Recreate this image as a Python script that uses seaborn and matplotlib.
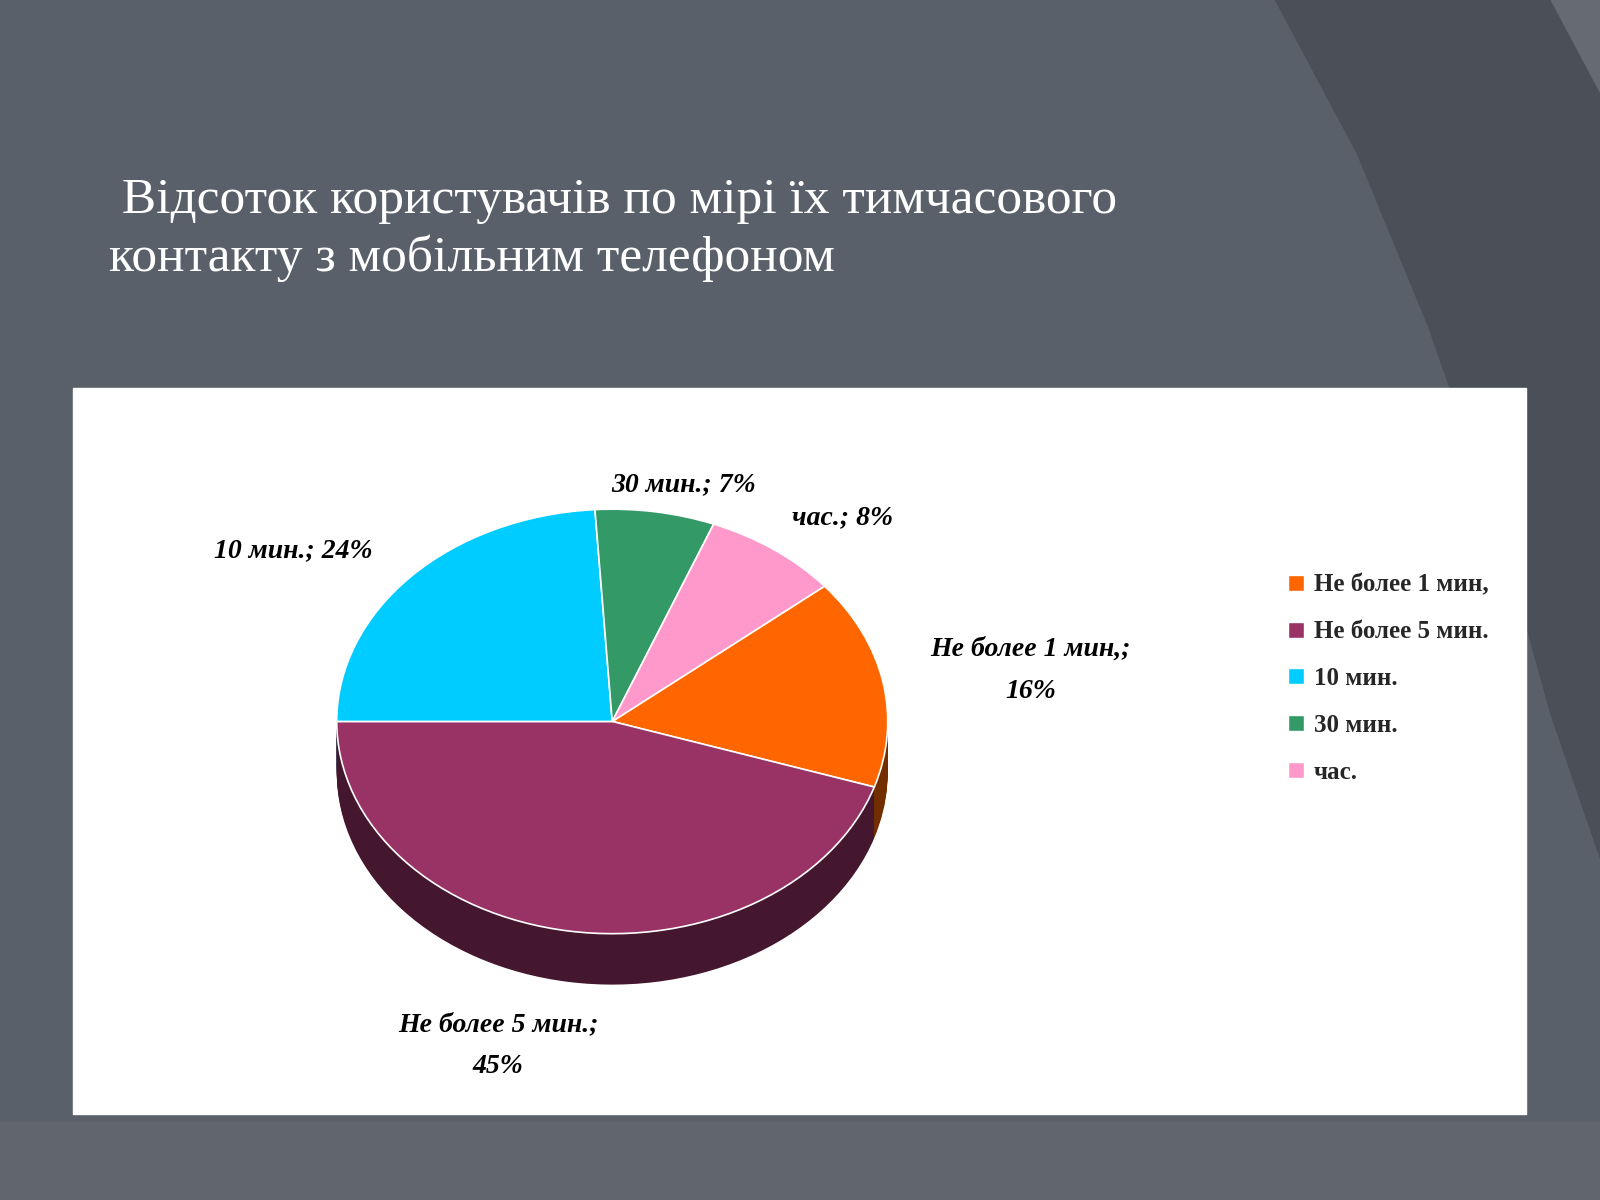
import matplotlib
matplotlib.use("Agg")
import matplotlib.pyplot as plt
import seaborn as sns
from matplotlib.patches import Rectangle, Polygon
from matplotlib.lines import Line2D
import colorsys

sns.set_theme(style="white")
plt.rcParams['font.family'] = ['Liberation Serif', 'DejaVu Serif']

categories = ["Не более 1 мин,", "Не более 5 мин.", "10 мин.", "30 мин.", "час."]
values = [16, 45, 24, 7, 8]
colors = ["#FF6600", "#993366", "#00CCFF", "#339966", "#FF99CC"]
label_texts = ["Не более 1 мин,;\n16%", "Не более 5 мин.;\n45%", "10 мин.; 24%", "30 мин.; 7%", "час.; 8%"]

fig = plt.figure(figsize=(16, 12), dpi=100)
fig.patch.set_facecolor("#596069")

# decorative background
bg = fig.add_axes([0, 0, 1, 1]); bg.set_xlim(0, 1568); bg.set_ylim(1176, 0); bg.axis("off")
bg.add_patch(Polygon([(1250, 0), (1568, 0), (1568, 840), (1520, 700), (1470, 520),
                      (1400, 320), (1330, 150)], closed=True, color="#4b5058", zorder=0))
bg.add_patch(Polygon([(1520, 0), (1568, 0), (1568, 90)], closed=True, color="#666b73", zorder=0))
bg.add_patch(Rectangle((0, 1100), 1568, 76, color="#61666e", zorder=0))
bg.add_patch(Rectangle((72, 380), 1423, 712, color="white", zorder=1))

fig.text(107/1568, 1-225/1176, " Відсоток користувачів по мірі їх тимчасового\nконтакту з мобільним телефоном",
         color="white", fontsize=37, va="center", ha="left", linespacing=1.3)

# pie axes (ellipse via non-equal aspect)
cx, cy = 600/1568, 1-707/1176
rx, ry = 270/1568, 208/1176
L = 1.6
ax = fig.add_axes([cx - rx*L, cy - ry*L, 2*rx*L, 2*ry*L])

def darken(c, f):
    r, g, b = matplotlib.colors.to_rgb(c)
    h, l, s = colorsys.rgb_to_hls(r, g, b)
    return colorsys.hls_to_rgb(h, l*f, s)

depth = 0.24
n = 30
for i in range(n, 0, -1):
    d = depth*i/n
    ax.pie(values, colors=[darken(c, 0.45) for c in colors], startangle=39.6, counterclock=False,
           center=(0, -d), radius=1, frame=False, wedgeprops=dict(linewidth=0))
ax.pie(values, colors=colors, startangle=39.6, counterclock=False, radius=1, frame=False,
       wedgeprops=dict(edgecolor="white", linewidth=1.2))
ax.set_xlim(-L, L); ax.set_ylim(-L, L); ax.set_aspect("auto"); ax.axis("off")

lab_pos = [(1010, 657), (488, 1025), (287, 540), (670, 475), (826, 507)]
for (x, y), t in zip(lab_pos, label_texts):
    fig.text(x/1568, 1-y/1176, t, fontsize=20, fontweight="bold", fontstyle="italic",
             ha="center", va="center", color="black", linespacing=1.9)

handles = [Line2D([0], [0], marker="s", color="w", markerfacecolor=c, markersize=11, linestyle="")
           for c in colors]
fig.legend(handles, categories, loc="upper left", bbox_to_anchor=(1236/1568, 1-540/1176),
           frameon=False, prop=dict(size=18, weight="bold"), labelspacing=0.95,
           handletextpad=0.2, handlelength=1)

fig.savefig("out.png", dpi=100, facecolor=fig.get_facecolor())
